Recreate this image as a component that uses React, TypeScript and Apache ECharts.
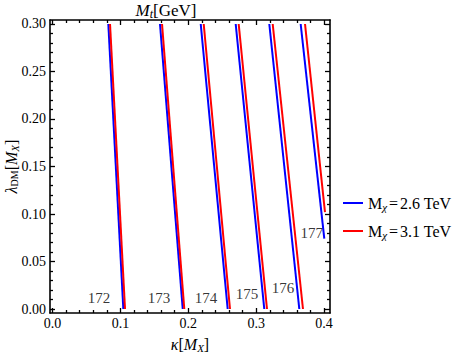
import React, { useEffect, useRef } from "react";
import * as echarts from "echarts";

const FONT = "Liberation Serif";

// axis ranges (Mathematica-style padding around 0..0.4 and 0..0.3)
const xMin = -0.0037;
const xMax = 0.4087;
const yMin = -0.0042;
const yMax = 0.3042;

const xMajor = [0, 0.1, 0.2, 0.3, 0.4];
const xMinor = [0.02, 0.04, 0.06, 0.08, 0.12, 0.14, 0.16, 0.18, 0.22, 0.24, 0.26, 0.28, 0.32, 0.34, 0.36, 0.38];
const yMajor = [0, 0.05, 0.1, 0.15, 0.2, 0.25, 0.3];
const yMinor = [
  0.01, 0.02, 0.03, 0.04, 0.06, 0.07, 0.08, 0.09, 0.11, 0.12, 0.13, 0.14,
  0.16, 0.17, 0.18, 0.19, 0.21, 0.22, 0.23, 0.24, 0.26, 0.27, 0.28, 0.29,
];

// contour lines of M_t (GeV)
const contourLabels = ["172", "173", "174", "175", "176", "177"];
const topY = [0.3, 0.3, 0.3, 0.3, 0.3, 0.3];

const blueTopX = [0.0822, 0.1583, 0.2183, 0.2698, 0.3193, 0.3655];
const blueEndX = [0.1043, 0.1918, 0.258, 0.3119, 0.3635, 0.4003];
const blueEndY = [0, 0, 0, 0, 0, 0.074];

const redTopX = [0.0847, 0.1613, 0.2227, 0.2742, 0.3243, 0.3719];
const redEndX = [0.1068, 0.1941, 0.2614, 0.3159, 0.3689, 0.4013];
const redEndY = [0, 0, 0, 0, 0, 0.102];

// label anchor positions (data coordinates)
const labelX = [0.0685, 0.1568, 0.2261, 0.2865, 0.3395, 0.3817];
const labelY = [0.0116, 0.0116, 0.0116, 0.0158, 0.0221, 0.08];

const seriesNames = ["Mχ=2.6 TeV", "Mχ=3.1 TeV"];
const legendText = ["{m|M}{sub|χ}{eq|=}{m|2.6 TeV}", "{m|M}{sub|χ}{eq|=}{m|3.1 TeV}"];
const seriesColors = ["#0000ff", "#ff0000"];

const plain = (size: number) => ({ fontFamily: FONT, fontSize: size, color: "#000", fontWeight: "normal" });

export default function App() {
  const ref = useRef<HTMLDivElement>(null);

  useEffect(() => {
    document.body.style.margin = "0";
    if (!ref.current) return;
    const chart = echarts.init(ref.current, undefined, { renderer: "svg" });

    const lineSeries: any[] = [];
    const sets = [
      { topX: blueTopX, endX: blueEndX, endY: blueEndY },
      { topX: redTopX, endX: redEndX, endY: redEndY },
    ];
    sets.forEach((s, si) => {
      contourLabels.forEach((_, i) => {
        lineSeries.push({
          type: "line",
          name: seriesNames[si],
          xAxisIndex: 0,
          yAxisIndex: 0,
          symbol: "none",
          color: seriesColors[si],
          lineStyle: { color: seriesColors[si], width: 2 },
          data: [
            [s.endX[i], s.endY[i]],
            [s.topX[i], topY[i]],
          ],
          z: 2 + si,
        });
      });
    });

    const labelSeries = {
      type: "scatter",
      name: "labels",
      xAxisIndex: 0,
      yAxisIndex: 0,
      symbolSize: 0,
      silent: true,
      data: contourLabels.map((t, i) => ({ name: t, value: [labelX[i], labelY[i]] })),
      label: {
        show: true,
        position: "inside",
        formatter: (p: any) => p.name,
        ...plain(15),
        textBorderWidth: 0,
      },
      z: 5,
    };

    const baseX = (position: string, ticks: number[], len: number, showLine: boolean, showLabel: boolean, extra: any = {}) => ({
      type: "value",
      position,
      min: xMin,
      max: xMax,
      splitLine: { show: false },
      axisLine: { show: showLine, onZero: false, lineStyle: { color: "#000", width: 1.6 } },
      axisTick: { show: true, inside: true, length: len, customValues: ticks, lineStyle: { color: "#000", width: 1.3 } },
      axisLabel: showLabel
        ? {
            show: true,
            customValues: ticks,
            formatter: (v: number) => v.toFixed(1),
            ...plain(14),
            margin: 3,
          }
        : { show: false },
      ...extra,
    });
    const baseY = (position: string, ticks: number[], len: number, showLine: boolean, showLabel: boolean, extra: any = {}) => ({
      type: "value",
      position,
      min: yMin,
      max: yMax,
      splitLine: { show: false },
      axisLine: { show: showLine, onZero: false, lineStyle: { color: "#000", width: 1.6 } },
      axisTick: { show: true, inside: true, length: len, customValues: ticks, lineStyle: { color: "#000", width: 1.3 } },
      axisLabel: showLabel
        ? {
            show: true,
            customValues: ticks,
            formatter: (v: number) => v.toFixed(2),
            ...plain(14),
            margin: 4,
          }
        : { show: false },
      ...extra,
    });

    chart.setOption({
      animation: false,
      backgroundColor: "#fff",
      grid: { left: 50, top: 20, width: 280, height: 293, containLabel: false, outerBoundsMode: "none" },
      xAxis: [
        baseX("bottom", xMajor, 5, true, true, {
          name: "{i|κ}{n|[}{i|M}{sub|X}{n|]}",
          nameLocation: "middle",
          nameGap: 22,
          nameMoveOverlap: false,
          nameTextStyle: {
            ...plain(16),
            rich: {
              i: { ...plain(16), fontStyle: "italic" },
              n: plain(16),
              sub: { ...plain(11), fontStyle: "italic", padding: [7, 0, 0, 0] },
            },
          },
        }),
        baseX("bottom", xMinor, 3, false, false),
        baseX("top", xMajor, 5, true, false),
        baseX("top", xMinor, 3, false, false),
      ],
      yAxis: [
        baseY("left", yMajor, 5, true, true, {
          name: "{i|λ}{sub|DM}{n|[}{i|M}{sub2|X}{n|]}",
          nameLocation: "middle",
          nameGap: 30,
          nameMoveOverlap: false,
          nameTextStyle: {
            ...plain(16),
            rich: {
              i: { ...plain(16), fontStyle: "italic" },
              n: plain(16),
              sub: { ...plain(10), padding: [7, 0, 0, 0] },
              sub2: { ...plain(11), fontStyle: "italic", padding: [7, 0, 0, 0] },
            },
          },
        }),
        baseY("left", yMinor, 3, false, false),
        baseY("right", yMajor, 5, true, false),
        baseY("right", yMinor, 3, false, false),
      ],
      legend: {
        data: seriesNames,
        orient: "vertical",
        left: 338,
        top: 190,
        icon: "rect",
        itemWidth: 20,
        itemHeight: 2,
        itemGap: 11,
        selectedMode: false,
        formatter: (name: string) => legendText[seriesNames.indexOf(name)],
        textStyle: {
          ...plain(16),
          rich: {
            m: plain(16),
            eq: { ...plain(16), padding: [0, 2, 0, 2] },
            sub: { ...plain(11), fontStyle: "italic", padding: [7, 0, 0, 0] },
          },
        },
      },
      graphic: [
        {
          type: "text",
          x: 166,
          y: 10,
          style: {
            text: "{i|M}{sub|t}{n|[GeV]}",
            align: "center",
            verticalAlign: "middle",
            fill: "#000",
            fontFamily: FONT,
            fontSize: 17,
            rich: {
              i: { fontFamily: FONT, fontSize: 17, fontStyle: "italic", fill: "#000" },
              n: { fontFamily: FONT, fontSize: 17, fill: "#000" },
              sub: { fontFamily: FONT, fontSize: 12, fontStyle: "italic", fill: "#000", padding: [8, 0, 0, 0] },
            },
          },
        },
      ],
      series: [...lineSeries, labelSeries],
    });

    return () => chart.dispose();
  }, []);

  return <div ref={ref} style={{ width: 463, height: 354 }} />;
}
